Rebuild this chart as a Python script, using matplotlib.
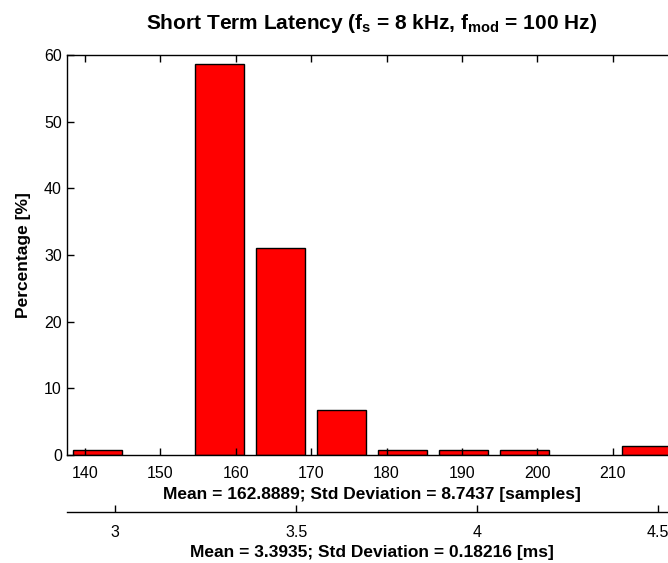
import matplotlib
matplotlib.use('Agg')
import matplotlib.pyplot as plt
from matplotlib.ticker import FormatStrFormatter

plt.rcParams['font.family'] = ['Liberation Sans', 'DejaVu Sans']
plt.rcParams['mathtext.fontset'] = 'custom'
plt.rcParams['mathtext.rm'] = 'Liberation Sans'
plt.rcParams['mathtext.bf'] = 'Liberation Sans:bold'

# latency histogram, 10 bins (samples) and percentage of hits per bin
bin_centers = [141.6, 149.7, 157.8, 165.9, 174.0, 182.1, 190.2, 198.3, 206.4, 214.5]
percentages = [0.8, 0.0, 58.6, 31.0, 6.7, 0.8, 0.8, 0.8, 0.0, 1.4]
bin_width = 8.1
x_range = (137.55, 218.55)
samples_per_ms = 48.0

mean_samples, std_samples = 162.8889, 8.7437
mean_ms, std_ms = 3.3935, 0.18216

fig = plt.figure(figsize=(6.68, 5.63), dpi=100)
ax = fig.add_axes([0.0998, 0.1918, 0.9137, 0.7105])

# empty bins are skipped so no edge line sits on the axis
nz = [(c, p) for c, p in zip(bin_centers, percentages) if p > 0]
ax.bar([c for c, _ in nz], [p for _, p in nz], width=0.8 * bin_width,
       color='#ff0000', edgecolor='black', linewidth=1.0)
ax.set_xlim(*x_range)
ax.set_ylim(0, 60)
ax.set_xticks(range(140, 220, 10))
ax.set_yticks(range(0, 61, 10))
ax.tick_params(direction='in', length=5, width=1, labelsize=11.5, top=True)
ax.tick_params(axis='x', pad=8)
for s in ax.spines.values():
    s.set_linewidth(1.0)

ax.set_title(r'Short Term Latency ($\mathbf{f_s}$ = 8 kHz, $\mathbf{f_{mod}}$ = 100 Hz)',
             fontsize=15, fontweight='bold', pad=19)
ax.set_ylabel('Percentage [%]', fontsize=12.5, fontweight='bold', labelpad=9)
ax.set_xlabel(f'Mean = {mean_samples}; Std Deviation = {std_samples} [samples]',
              fontsize=12.5, fontweight='bold', labelpad=4)

# same data expressed in milliseconds on a second axis below
sec = ax.secondary_xaxis(-0.1425, functions=(lambda x: x / samples_per_ms,
                                             lambda x: x * samples_per_ms))
sec.set_xticks([3, 3.5, 4, 4.5])
sec.xaxis.set_major_formatter(FormatStrFormatter('%g'))
sec.tick_params(direction='in', length=5, width=1, labelsize=11.5, pad=9)
sec.spines['bottom'].set_linewidth(1.0)
sec.set_xlabel(f'Mean = {mean_ms}; Std Deviation = {std_ms} [ms]',
               fontsize=12.5, fontweight='bold', labelpad=4)

fig.savefig('out.png', dpi=100)
